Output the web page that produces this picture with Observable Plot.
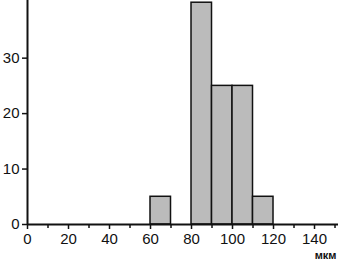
<!DOCTYPE html>
<html><head><meta charset="utf-8">
<script src="https://cdn.jsdelivr.net/npm/d3@7"></script>
<script src="https://cdn.jsdelivr.net/npm/@observablehq/plot@0.6"></script>
<style>body{margin:0;background:#fff} #chart{width:338px;height:264px}</style>
</head><body><div id="chart"></div>
<script>
const binStart = [60, 80, 90, 100, 110];
const binEnd = [70, 90, 100, 110, 120];
const counts = [5, 40, 25, 25, 5];
const xTicks = [0, 20, 40, 60, 80, 100, 120, 140];
const xMinorTicks = [10, 30, 50, 70, 90, 110, 130, 150];
const yTicks = [0, 10, 20, 30];
const unitLabel = "мкм";

const data = binStart.map((s, i) => ({x1: s, x2: binEnd[i], y: counts[i]}));

const plot = Plot.plot({
  width: 338, height: 264,
  marginLeft: 27, marginRight: 0, marginTop: 0, marginBottom: 40,
  x: {domain: [0, 151.7]},
  y: {domain: [0, 40.4]},
  style: {fontFamily: "'Liberation Sans', Arial, sans-serif", fontSize: "15px", color: "#111", background: "#fff"},
  marks: [
    Plot.rectY(data, {x1: "x1", x2: "x2", y: "y", fill: "#bbbbbb", stroke: "#111", strokeWidth: 1.5}),
    Plot.axisX({ticks: xMinorTicks, tickFormat: () => "", tickSize: 4, strokeWidth: 1.5, label: null}),
    Plot.axisX({ticks: xTicks, tickSize: 5, tickPadding: 4, strokeWidth: 1.5, label: null, fontSize: 15}),
    Plot.axisY({ticks: yTicks, tickSize: 5, tickPadding: 3, strokeWidth: 1.5, label: null, fontSize: 15}),
    Plot.ruleY([0], {stroke: "#111", strokeWidth: 2}),
    Plot.ruleX([0], {stroke: "#111", strokeWidth: 2}),
    Plot.text([unitLabel], {frameAnchor: "bottom-right", dx: -2, dy: 34, fontSize: 11, fontWeight: "bold", fill: "#111"})
  ]
});
document.getElementById("chart").append(plot);
</script>
</body></html>
